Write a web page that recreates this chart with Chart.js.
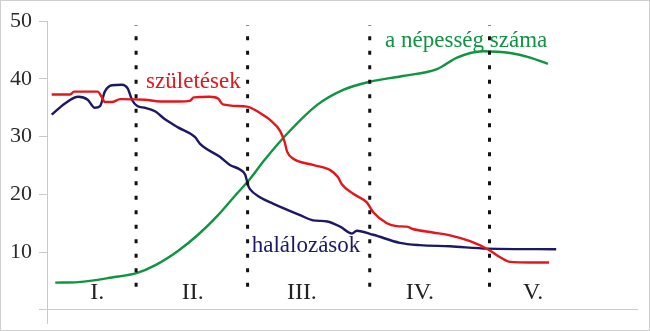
<!DOCTYPE html>
<html lang="hu">
<head>
<meta charset="utf-8">
<title>Demográfiai átmenet</title>
<script src="https://cdn.jsdelivr.net/npm/chart.js@4/dist/chart.umd.min.js"></script>
<style>
  html, body { margin: 0; padding: 0; background: #fff; }
  #wrap { width: 650px; height: 331px; box-sizing: border-box; border: 1px solid #cfcfcf; }
  #chart { display: block; }
</style>
</head>
<body>
<div id="wrap"><canvas id="chart" width="648" height="329"></canvas></div>
<script>
// Demographic transition: births, deaths and population size over five stages.
// x runs 0..100 across the plot (no time unit is shown), y is per-mille / size.

const birthsX = [0.8, 3.9, 4.6, 8.6, 9.2, 9.8, 11.0, 12.4, 16.6, 19.2, 22.5, 24.2, 24.9, 27.6, 29.0, 29.8,
  33.9, 36.1, 37.8, 39.5, 40.3, 40.7, 41.7, 45.1, 48.0, 49.3, 50.0, 51.9, 54.2, 55.3, 57.6, 59.3,
  61.0, 62.0, 65.4, 68.3, 71.7, 74.7, 76.8, 78.5, 81.9, 85.1];
const birthsY = [37.3, 37.3, 37.8, 37.8, 37.0, 36.0, 36.0, 36.5, 36.4, 36.1, 36.1, 36.2, 36.8, 36.9, 36.6, 35.6,
  35.2, 34.1, 32.9, 31.0, 29.0, 27.4, 26.2, 25.1, 24.2, 23.0, 21.7, 20.1, 18.6, 16.9, 15.0, 14.5,
  14.4, 14.0, 13.4, 12.9, 11.9, 10.5, 9.1, 8.3, 8.2, 8.2];

const deathsX = [0.8, 3.1, 5.3, 6.9, 8.1, 9.0, 9.8, 11.0, 12.7, 13.7, 14.4, 15.3, 16.6, 18.3, 20.0, 22.2,
  25.1, 25.9, 29.3, 31.0, 32.7, 33.6, 34.1, 34.4, 36.1, 38.3, 42.9, 45.1, 47.5, 49.7, 51.7, 52.5,
  55.3, 59.8, 63.2, 68.3, 74.7, 86.3];
const deathsY = [33.8, 35.8, 36.9, 36.4, 35.0, 35.3, 37.8, 38.9, 39.0, 38.3, 36.4, 35.3, 35.0, 34.4, 33.0, 31.6,
  29.9, 28.8, 26.5, 25.1, 24.3, 23.4, 21.5, 20.9, 19.5, 18.4, 16.4, 15.5, 15.3, 14.4, 13.2, 13.7,
  13.0, 11.6, 11.2, 11.0, 10.6, 10.5];

const popX = [1.4, 5.3, 11.0, 15.3, 18.3, 22.2, 25.6, 29.0, 31.9, 34.1, 36.9, 40.7, 45.8, 50.2,
  54.7, 60.3, 66.1, 69.5, 73.9, 78.5, 81.9, 84.9];
const popY = [4.7, 4.8, 5.6, 6.4, 7.7, 10.2, 13.0, 16.4, 19.8, 22.3, 26.0, 30.5, 35.5, 38.1,
  39.5, 40.5, 41.7, 43.7, 44.8, 44.5, 43.7, 42.6];

// stage boundaries and names
const stageBounds = [15.1, 34.0, 54.7, 75.0];
const stageNames = ["I.", "II.", "III.", "IV.", "V."];
const stageCenters = [8.5, 24.7, 43.2, 63.2, 82.4];
const yTicks = [0, 10, 20, 30, 40, 50];

const SERIF = "'Liberation Serif', 'DejaVu Serif', serif";
const RED = "#e3161c", NAVY = "#1c1866", GREEN = "#0f9441", AXIS = "#c9c9c9";

const pts = (xs, ys) => xs.map((x, i) => ({ x, y: ys[i] }));

function curve(label, xs, ys, color) {
  return {
    label, data: pts(xs, ys), borderColor: color, borderWidth: 2.4,
    pointRadius: 0, fill: false, cubicInterpolationMode: "monotone",
  };
}

const boundarySets = stageBounds.map((b) => ({
  label: "határ", data: [{ x: b, y: 4.0 }, { x: b, y: 49.3 }],
  borderColor: "#111", borderWidth: 3, borderDash: [4, 10.5], borderCapStyle: "butt",
  pointRadius: 0, fill: false,
}));

// text placed in data coordinates: [text, x, baseline y, colour, font size]
const captions = [
  ["születések", 16.8, 38.5, RED, 23],
  ["halálozások", 34.7, 10.0, NAVY, 23],
  ["a népesség száma", 57.3, 45.6, GREEN, 23],
];

const captionPlugin = {
  id: "captions",
  afterDatasetsDraw(chart) {
    const { ctx, scales: { x, y } } = chart;
    ctx.save();
    ctx.textBaseline = "alphabetic";
    ctx.textAlign = "left";
    captions.forEach(([t, cx, cy, col, size]) => {
      ctx.font = `${size}px ${SERIF}`;
      ctx.fillStyle = col;
      ctx.fillText(t, x.getPixelForValue(cx), y.getPixelForValue(cy));
    });
    ctx.textAlign = "center";
    ctx.font = `24px ${SERIF}`;
    ctx.fillStyle = "#222";
    stageNames.forEach((n, i) => {
      ctx.fillText(n, x.getPixelForValue(stageCenters[i]), y.getPixelForValue(1.8));
    });
    ctx.restore();
  },
};

new Chart(document.getElementById("chart"), {
  type: "line",
  data: {
    datasets: [
      ...boundarySets,
      curve("születések", birthsX, birthsY, RED),
      curve("halálozások", deathsX, deathsY, NAVY),
      curve("a népesség száma", popX, popY, GREEN),
    ],
  },
  options: {
    responsive: false, animation: false, events: [],
    layout: { padding: { top: 20, right: 12, bottom: 0, left: 0 } },
    plugins: { legend: { display: false }, tooltip: { enabled: false } },
    scales: {
      x: {
        type: "linear", min: 0, max: 100,
        afterBuildTicks: (s) => { s.ticks = [{ value: 0 }, { value: 100 }]; },
        afterFit: (s) => { s.height = 13; },
        border: { display: true, color: AXIS, width: 1 },
        grid: {
          drawOnChartArea: false, drawTicks: true, tickLength: 14,
          color: (c) => (c.tick && c.tick.value === 0 ? AXIS : "rgba(0,0,0,0)"),
        },
        ticks: { display: false },
      },
      y: {
        min: 0, max: 50,
        afterBuildTicks: (s) => { s.ticks = yTicks.map((v) => ({ value: v })); },
        afterFit: (s) => { s.width = 46; },
        border: { display: true, color: AXIS, width: 1 },
        grid: { drawOnChartArea: false, drawTicks: true, tickLength: 8, color: AXIS },
        ticks: {
          padding: 7, color: "#2a2a2a",
          font: { family: SERIF, size: 22 },
          callback: (v) => (v === 0 ? "" : v),
        },
      },
    },
  },
  plugins: [captionPlugin],
});
</script>
</body>
</html>
